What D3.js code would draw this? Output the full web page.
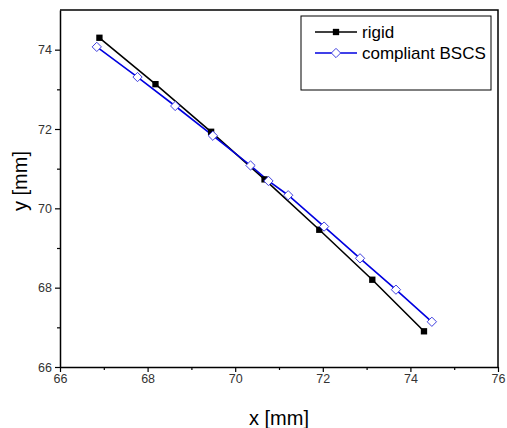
<!DOCTYPE html>
<meta charset="utf-8">
<style>
    body { margin: 0; background: #fff; }
    svg { display: block; }
    .tick text { font: 12.5px "Liberation Sans", Arial, sans-serif; fill: #333; }
    .axis-title { font: 20px "Liberation Sans", Arial, sans-serif; fill: #000; }
    .legenda text { font: 17px "Liberation Sans", Arial, sans-serif; fill: #000; }
</style>
<script src="https://cdn.jsdelivr.net/npm/d3@7"></script>
<svg width="507" height="428"></svg>
<script>
    // pontos
    var rigidX = [66.90, 68.18, 69.45, 70.67, 71.92, 73.13, 74.31];
    var rigidY = [74.30, 73.13, 71.93, 70.73, 69.46, 68.20, 66.90];
    var bscsX = [66.84, 67.77, 68.63, 69.49, 70.35, 70.76, 71.21, 72.03, 72.85, 73.67, 74.49];
    var bscsY = [74.07, 73.31, 72.58, 71.83, 71.08, 70.69, 70.33, 69.54, 68.74, 67.95, 67.14];
    var xTicks = [66, 68, 70, 72, 74, 76];
    var yTicks = [66, 68, 70, 72, 74];
    var series = ["rigid", "compliant BSCS"];

    var svg = d3.select("svg"),
        margin = { left: 60, top: 10, right: 9, bottom: 61 },
        width = 507 - margin.left - margin.right,
        height = 428 - margin.top - margin.bottom;

    var g = svg.append("g").attr("transform", "translate(" + margin.left + "," + margin.top + ")");

    var x = d3.scaleLinear().domain([66, 76]).range([0, width]);
    var y = d3.scaleLinear().domain([66, 75]).range([height, 0]);

    // ticks menores
    g.append("g").attr("transform", "translate(0," + height + ")")
        .call(d3.axisBottom(x).tickValues([67, 69, 71, 73, 75]).tickSize(3).tickFormat(""))
        .call(function (a) { a.select(".domain").remove(); });
    g.append("g")
        .call(d3.axisLeft(y).tickValues([67, 69, 71, 73]).tickSize(3).tickFormat(""))
        .call(function (a) { a.select(".domain").remove(); });

    var xAxis = g.append("g").attr("transform", "translate(0," + height + ")")
        .call(d3.axisBottom(x).tickValues(xTicks).tickSize(5).tickPadding(2).tickSizeOuter(0));
    var yAxis = g.append("g")
        .call(d3.axisLeft(y).tickValues(yTicks).tickSize(5).tickPadding(3).tickSizeOuter(0));

    g.selectAll(".domain").attr("stroke-width", 1.5);
    g.selectAll(".tick line").attr("stroke-width", 1.2);

    // moldura
    g.append("path")
        .attr("d", "M0,0H" + width + "V" + height)
        .attr("fill", "none").attr("stroke", "#000").attr("stroke-width", 1.5);

    svg.append("text").attr("class", "axis-title")
        .attr("x", 279).attr("y", 425).attr("text-anchor", "middle").text("x [mm]");
    svg.append("text").attr("class", "axis-title")
        .attr("transform", "translate(27,181) rotate(-90)")
        .attr("text-anchor", "middle").text("y [mm]");

    var line = d3.line().x(function (d) { return x(d[0]); }).y(function (d) { return y(d[1]); });

    var rigid = d3.zip(rigidX, rigidY);
    var bscs = d3.zip(bscsX, bscsY);

    g.append("path").datum(rigid).attr("d", line)
        .attr("fill", "none").attr("stroke", "#000").attr("stroke-width", 1.6);
    g.append("path").datum(bscs).attr("d", line)
        .attr("fill", "none").attr("stroke", "#0000e0").attr("stroke-width", 1.6);

    var square = d3.symbol().type(d3.symbolSquare).size(40);
    var diamond = d3.symbol().type(d3.symbolDiamond2).size(55);

    g.selectAll(".rigid").data(rigid).enter().append("path")
        .attr("class", "rigid")
        .attr("transform", function (d) { return "translate(" + x(d[0]) + "," + y(d[1]) + ")"; })
        .attr("d", square).attr("fill", "#000");

    g.selectAll(".bscs").data(bscs).enter().append("path")
        .attr("class", "bscs")
        .attr("transform", function (d) { return "translate(" + x(d[0]) + "," + y(d[1]) + ")"; })
        .attr("d", diamond).attr("fill", "#fff").attr("stroke", "#4040e0").attr("stroke-width", 1);

    // legenda
    var leg = svg.append("g").attr("class", "legenda").attr("transform", "translate(301,16)");
    leg.append("rect").attr("width", 190).attr("height", 74)
        .attr("fill", "#fff").attr("stroke", "#000").attr("stroke-width", 1);

    var item = leg.selectAll(".item").data(series).enter().append("g")
        .attr("class", "item")
        .attr("transform", function (d, i) { return "translate(0," + (16 + i * 21) + ")"; });
    item.append("line").attr("x1", 14).attr("x2", 56)
        .attr("stroke", function (d, i) { return i ? "#0000e0" : "#000"; }).attr("stroke-width", 1.6);
    item.append("path").attr("transform", "translate(35,0)")
        .attr("d", function (d, i) { return i ? diamond() : square(); })
        .attr("fill", function (d, i) { return i ? "#fff" : "#000"; })
        .attr("stroke", function (d, i) { return i ? "#4040e0" : "none"; });
    item.append("text").attr("x", 61).attr("dy", "0.35em").text(function (d) { return d; });
</script>
